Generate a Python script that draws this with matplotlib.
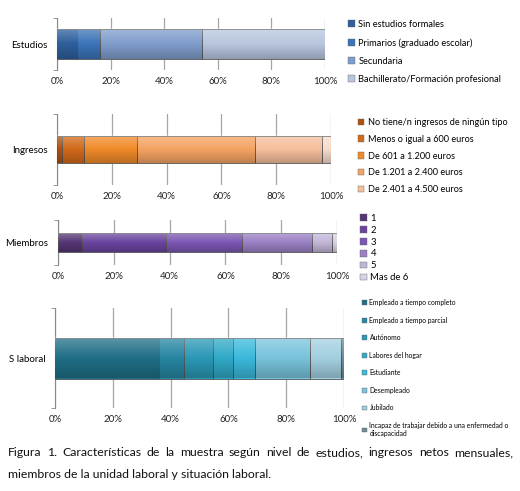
import matplotlib
matplotlib.use("Agg")
import numpy as np
import matplotlib.pyplot as plt
from matplotlib.patches import Patch

plt.rcParams['font.family'] = ['Lato', 'DejaVu Sans']

# data (percent of sample)
estudios_labels = ['Sin estudios formales', 'Primarios (graduado escolar)',
                   'Secundaria', 'Bachillerato/Formación profesional']
estudios_vals = [7.3, 8.7, 38.1, 45.9]
estudios_cols = ['#2f5f9c', '#3b74b8', '#7f9dcc', '#b8c6df']

ingresos_labels = ['No tiene/n ingresos de ningún tipo', 'Menos o igual a 600 euros',
                   'De 601 a 1.200 euros', 'De 1.201 a 2.400 euros',
                   'De 2.401 a 4.500 euros']
ingresos_vals = [1.8, 7.9, 19.5, 43.1, 24.3, 3.4]
ingresos_cols = ['#b0520f', '#d2691a', '#f08a2a', '#f5a362', '#f6bf9c', '#f7dccc']

miembros_labels = ['1', '2', '3', '4', '5', 'Mas de 6']
miembros_vals = [8.7, 29.9, 27.3, 25.1, 7.2, 1.8]
miembros_cols = ['#553575', '#6a44a0', '#7c56b3', '#9a80c4', '#c2b6d8', '#d8d3e3']

laboral_labels = ['Empleado a tiempo completo', 'Empleado a tiempo parcial', 'Autónomo',
                  'Labores del hogar', 'Estudiante', 'Desempleado', 'Jubilado',
                  'Incapaz de trabajar debido a una enfermedad o\ndiscapacidad']
laboral_vals = [36.1, 8.6, 10.0, 6.9, 7.5, 19.0, 10.7, 1.2]
laboral_cols = ['#1f6f86', '#2786a2', '#2b98b6', '#31a9c7', '#3bb9dc', '#78c4dc', '#a3d0e0', '#6f8c98']

ticks = [0, 20, 40, 60, 80, 100]
tick_labels = ['0%', '20%', '40%', '60%', '80%', '100%']

W, H = 520, 491
fig = plt.figure(figsize=(W / 100, H / 100), dpi=100)

# vertical shading for the bars (light top, darker bottom)
t = np.linspace(0, 1, 64)[:, None]
shade = np.zeros((64, 1, 4))
shade[..., :3] = np.where(t < 0.5, 1.0, 0.0)[..., None]
shade[..., 3] = np.where(t < 0.5, 0.28 * (1 - t / 0.5), 0.22 * (t - 0.5) / 0.5)


def px_axes(x0, y0, x1, y1):
    return fig.add_axes([x0 / W, 1 - y1 / H, (x1 - x0) / W, (y1 - y0) / H])


def panel(box, name, vals, cols, labels, bar_h, leg_xy, lspace, leg_fs):
    ax = px_axes(*box)
    left = 0
    for v, c in zip(vals, cols):
        ax.barh(0, v, left=left, height=bar_h, color=c, edgecolor='#555555',
                linewidth=0.6, zorder=3)
        left += v
    ax.imshow(shade, extent=(0, left, -bar_h / 2, bar_h / 2), aspect='auto',
              zorder=4, interpolation='bilinear')
    ax.set_xlim(0, 100)
    ax.set_ylim(-0.5, 0.5)
    ax.set_xticks(ticks, tick_labels, fontsize=7)
    ax.tick_params(axis='x', length=0, pad=5, colors='#222222')
    ax.set_yticks([0], [name], fontsize=7)
    ax.set_yticks([-0.5, 0.5], minor=True)
    ax.tick_params(axis='y', which='major', length=0, pad=7)
    ax.tick_params(axis='y', which='minor', length=3, color='#888888')
    ax.grid(axis='x', color='#a6a6a6', linewidth=0.9, zorder=0)
    for s in ['top', 'right', 'bottom']:
        ax.spines[s].set_visible(False)
    ax.spines['left'].set_color('#888888')
    handles = [Patch(facecolor=c, edgecolor='#666666', linewidth=0.3) for c in cols[:len(labels)]]
    fig.legend(handles, labels, loc='upper left',
               bbox_to_anchor=(leg_xy[0] / W, 1 - leg_xy[1] / H),
               frameon=False, fontsize=leg_fs, handlelength=0.7, handleheight=0.7,
               handletextpad=0.4, labelspacing=lspace, borderpad=0, borderaxespad=0)
    return ax


panel((57, 18, 325, 70), 'Estudios', estudios_vals, estudios_cols, estudios_labels,
      0.58, (348, 20), 0.98, 6.7)
panel((57, 114, 331, 185), 'Ingresos', ingresos_vals, ingresos_cols, ingresos_labels,
      0.39, (358, 118), 0.85, 6.6)
panel((58, 220, 337, 265), 'Miembros', miembros_vals, miembros_cols, miembros_labels,
      0.42, (360, 214), 0.3, 6.8)
panel((55, 308, 344, 408), 'S laboral', laboral_vals, laboral_cols, laboral_labels,
      0.41, (362, 299), 1.55, 4.9)

# caption, first line justified
line1 = ('Figura 1. Características de la muestra según nivel de estudios, '
         'ingresos netos mensuales,').split(' ')
line2 = 'miembros de la unidad laboral y situación laboral.'
cap_fs = 8.8
words = [fig.text(0, 1 - 456 / H, w, fontsize=cap_fs, va='baseline', color='#111111')
         for w in line1]
fig.canvas.draw()
renderer = fig.canvas.get_renderer()
widths = [tx.get_window_extent(renderer).width for tx in words]
x_start, x_end = 8, 513
gap = (x_end - x_start - sum(widths)) / (len(words) - 1)
x = x_start
for tx, wd in zip(words, widths):
    tx.set_x(x / W)
    x += wd + gap
fig.text(x_start / W, 1 - 478 / H, line2, fontsize=cap_fs, va='baseline', color='#111111')

fig.savefig('out.png', dpi=100)
